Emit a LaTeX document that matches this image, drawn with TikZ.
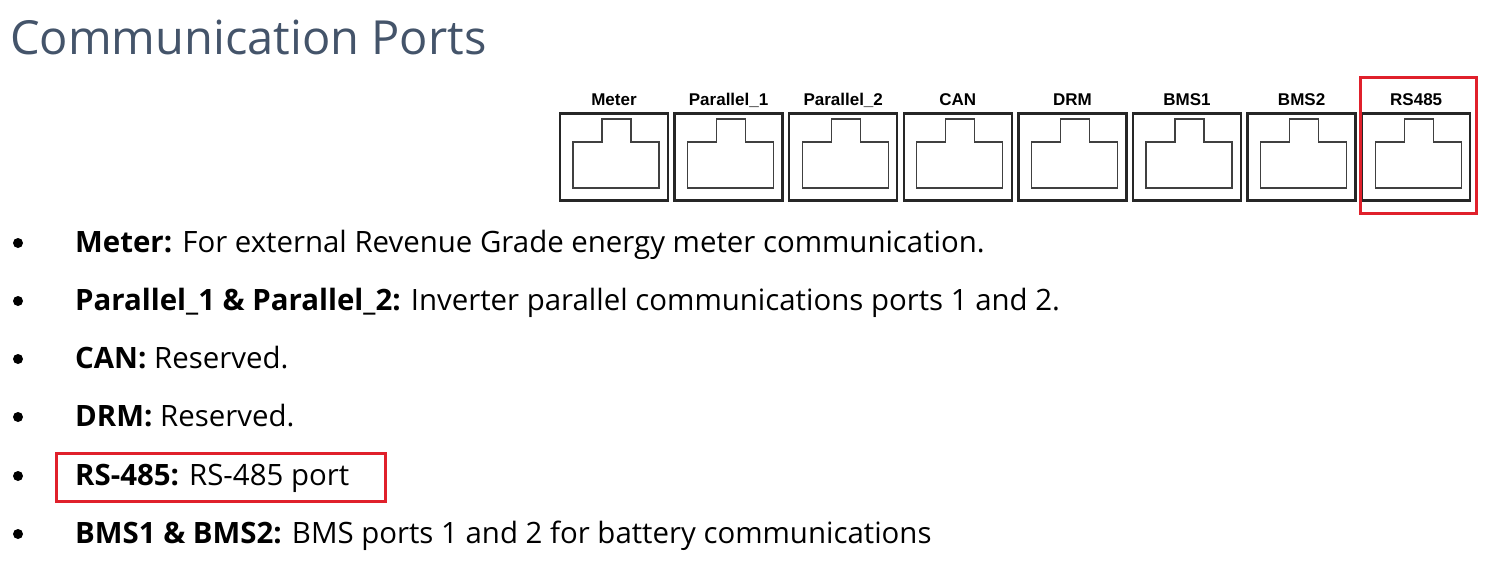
\documentclass[tikz,border=0pt]{standalone}
\usepackage{fontspec}
\usetikzlibrary{calc}
\setmainfont{Open Sans}
\newfontfamily\portfont{Liberation Sans}
\definecolor{titlegray}{HTML}{44546A}
\definecolor{markred}{HTML}{E0202B}
\tikzset{
  port/.style={draw=black!85, line width=2.5pt, minimum width=108pt, minimum height=87pt, inner sep=0pt},
  portlabel/.style={font=\portfont\bfseries\fontsize{17}{17}\selectfont, anchor=base},
  item/.style={anchor=base west, inner sep=0pt, font=\fontsize{29.4}{29.4}\selectfont},
  dot/.style={circle, fill=black, inner sep=0pt, minimum size=10pt},
  redbox/.style={draw=markred, line width=3pt}
}
\begin{document}
\begin{tikzpicture}[x=1pt, y=-1pt]
\useasboundingbox (0,0) rectangle (1492,578);

\node[anchor=base west, inner sep=0pt, text=titlegray, font=\fontsize{47}{47}\selectfont] (title) at (10,55) {Communication Ports};

% ports
\foreach \name [count=\i from 0] in {Meter,Parallel\_1,Parallel\_2,CAN,DRM,BMS1,BMS2,RS485}{
  \node[port] (p\i) at (614+114.6*\i,157) {};
  \node[portlabel] (l\i) at (614+114.6*\i,106) {\name};
  \draw[black!75, line width=1.2pt] ($(p\i.center)+(-41,31)$) -- ++(0,-46) -- ++(29,0) -- ++(0,-23)
    -- ++(29,0) -- ++(0,23) -- ++(28,0) -- ++(0,46) -- cycle;
}
\draw[redbox] (1360,78) rectangle (1476,213);

% list
\foreach \y/\txt [count=\j] in {
  252/{\textbf{Meter:} For external Revenue Grade energy meter communication.},
  310/{\textbf{Parallel\_1 \& Parallel\_2:} Inverter parallel communications ports 1 and 2.},
  368/{\textbf{CAN:} Reserved.},
  426/{\textbf{DRM:} Reserved.},
  485/{\textbf{RS-485:} RS-485 port},
  543/{\textbf{BMS1 \& BMS2:} BMS ports 1 and 2 for battery communications}}{
  \node[dot] (b\j) at (18,\y-9) {};
  \node[item] (t\j) at (75,\y) {\txt};
}
\draw[redbox] (56,453) rectangle (385,501);
\end{tikzpicture}
\end{document}
